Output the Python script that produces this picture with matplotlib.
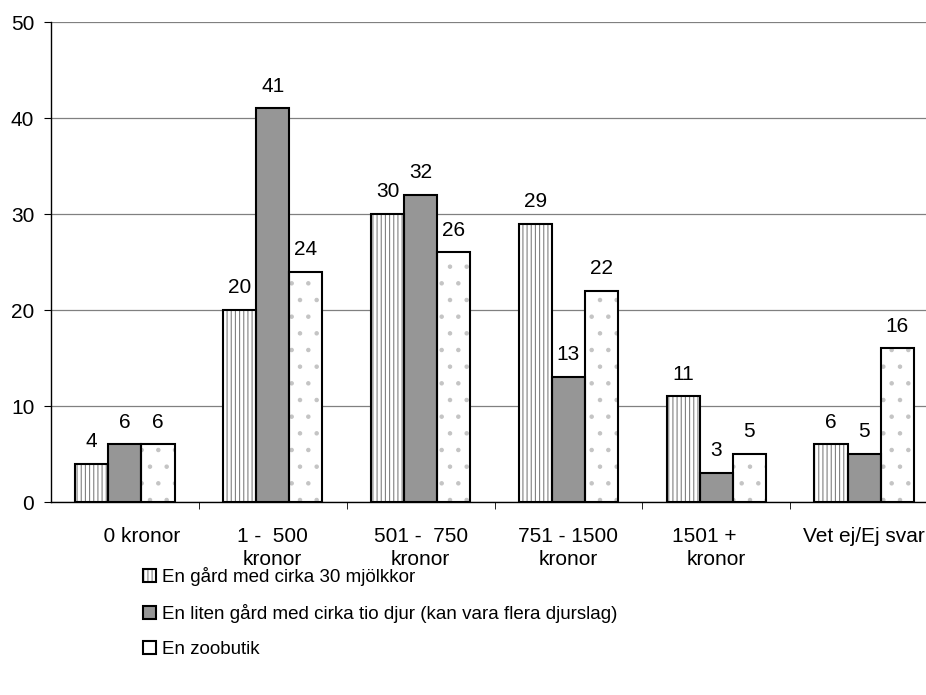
import matplotlib.pyplot as plt
import numpy as np
from matplotlib.patches import Patch
from matplotlib.legend_handler import HandlerTuple

plt.rcParams['font.family'] = ['Liberation Sans', 'DejaVu Sans']
plt.rcParams['hatch.linewidth'] = 0.8

kategorier = ["      0 kronor", "1 -  500\nkronor", "501 -  750\nkronor",
              "751 - 1500\nkronor", "1501 +    \nkronor", "Vet ej/Ej svar"]
serier = ["En gård med cirka 30 mjölkkor",
          "En liten gård med cirka tio djur (kan vara flera djurslag)",
          "En zoobutik"]
gard_30 = [4, 20, 30, 29, 11, 6]
liten_gard = [6, 41, 32, 13, 3, 5]
zoobutik = [6, 24, 26, 22, 5, 16]

varden = [gard_30, liten_gard, zoobutik]
fyllning = ["white", "#969696", "white"]
monster = ["||||", None, "."]
monsterfarg = ["#808080", "#808080", "#c4c4c4"]

fs = 15
fig = plt.figure(figsize=(9.26, 6.95), dpi=100)
ax = fig.add_axes([51 / 926, 1 - 502 / 695, 887 / 926, 480 / 695])

x = np.arange(len(kategorier))
bredd = 0.224
handles = []
for k, (v, fc, h, hc) in enumerate(zip(varden, fyllning, monster, monsterfarg)):
    pos = x + (k - 1) * bredd
    ax.bar(pos, v, bredd, color=fc, hatch=h, edgecolor=hc,
           linewidth=0, zorder=2)
    ax.bar(pos, v, bredd, facecolor="none", edgecolor="black",
           linewidth=1.5, zorder=3)
    for xi, yi in zip(pos, v):
        ax.annotate(str(yi), (xi, yi), xytext=(0, 16), textcoords="offset points",
                    ha="center", va="center", fontsize=fs)
    p1 = Patch(facecolor=fc, hatch=h, edgecolor=hc, linewidth=0)
    p2 = Patch(facecolor="none", edgecolor="black", linewidth=1.5)
    handles.append((p1, p2))

ax.set_xlim(-0.5, len(kategorier) - 0.5)
ax.set_ylim(0, 50)
ax.set_yticks(range(0, 51, 10))
ax.yaxis.grid(True, color="#808080", linewidth=0.9)
ax.set_axisbelow(True)
ax.set_xticks(x)
ax.set_xticklabels(kategorier, fontsize=fs)
for lbl in ax.get_xticklabels():
    lbl.set_linespacing(1.25)
ax.set_xticks(np.arange(0.5, len(kategorier) - 0.5, 1), minor=True)
ax.tick_params(axis="x", which="major", length=0, pad=18)
ax.tick_params(axis="x", which="minor", length=5, direction="out")
ax.tick_params(axis="y", length=5, direction="out", labelsize=fs, pad=7)
for s in ["top", "right"]:
    ax.spines[s].set_visible(False)
for s in ["left", "bottom"]:
    ax.spines[s].set_linewidth(1.0)

fig.legend(handles, serier, loc="upper left", bbox_to_anchor=(126 / 926, 1 - 550 / 695),
           frameon=False, fontsize=13.5, handler_map={tuple: HandlerTuple(ndivide=1, pad=0)},
           handlelength=0.7, handleheight=0.7, handletextpad=0.3, labelspacing=0.95)

fig.savefig("out.png", dpi=100)
